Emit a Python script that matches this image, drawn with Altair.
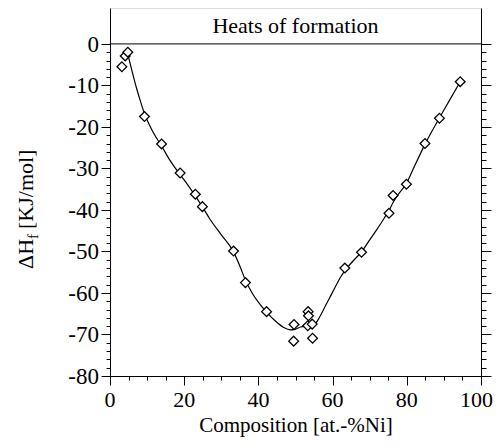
import altair as alt
import pandas as pd

# measured points (composition at.-% Ni, heat of formation kJ/mol)
comp = [3.2, 4.1, 4.8, 9.3, 13.9, 18.9, 23.0, 24.9, 33.3, 36.5, 42.2, 49.6, 49.5,
        53.4, 53.5, 53.3, 54.5, 54.6, 63.3, 67.8, 75.2, 76.3, 79.9, 84.9, 88.8, 94.4]
dh = [-5.5, -2.9, -2.0, -17.5, -24.1, -31.1, -36.2, -39.2, -49.9, -57.5, -64.5, -67.6, -71.6,
      -64.5, -65.5, -67.9, -67.5, -70.9, -54.0, -50.2, -40.8, -36.5, -33.8, -24.0, -17.9, -9.1]

# fitted curve
fit_x = [4.9, 5.5, 6.3, 7.2, 8.1, 9.3, 10.5, 11.7, 13.9, 16.0, 18.9, 21.0, 23.0, 25.0, 27.0,
         30.0, 33.3, 35.0, 36.5, 38.5, 40.5, 42.2, 44.5, 46.8, 48.6, 50.0, 51.4, 53.6, 55.4,
         56.5, 57.6, 59.0, 60.4, 62.0, 63.3, 65.5, 67.8, 70.0, 72.0, 73.9, 75.2, 76.3, 78.0,
         79.9, 82.0, 84.9, 86.8, 88.8, 91.5, 94.4]
fit_y = [-2.8, -5.0, -7.8, -10.8, -13.5, -16.8, -19.3, -21.4, -24.6, -27.8, -31.5, -34.0, -36.6,
         -39.4, -42.3, -46.0, -50.1, -53.5, -56.9, -60.3, -62.8, -64.6, -66.7, -68.3, -68.9,
         -68.7, -68.2, -67.9, -67.3, -65.8, -63.9, -61.5, -59.1, -56.4, -54.6, -52.3, -50.1,
         -47.2, -44.6, -42.0, -40.2, -38.2, -35.9, -33.6, -29.6, -24.2, -21.0, -17.8, -13.6, -9.1]

x_major = [0, 20, 40, 60, 80, 100]
x_minor = list(range(0, 101, 5))
y_major = list(range(-80, 1, 10))
y_minor = list(range(-80, 1, 2))
zero_line = [0]
panel_title = ["Heats of formation"]

FONT = "Liberation Serif"
W, H = 371, 368
xs = alt.Scale(domain=[0, 100], nice=False, zero=False)
ys = alt.Scale(domain=[-80, 8.65], nice=False, zero=False)
lab = "datum.v < 0 ? '-' + abs(datum.v) : '' + datum.v"

common = dict(domainColor="black", tickColor="black", grid=False, labels=False,
              titleFont=FONT, titleColor="black",
              domainWidth=1, tickWidth=1, titleFontWeight="normal")

x_major_axis = alt.Axis(orient="bottom", values=x_major, tickSize=9,
                        title="Composition [at.-%Ni]", titleFontSize=21,
                        titlePadding=29, **common)
x_minor_axis = alt.Axis(orient="bottom", values=x_minor, tickSize=4,
                        title="", domain=False, **common)
y_major_left = alt.Axis(orient="left", values=y_major, tickSize=9, title="", **common)
y_minor_left = alt.Axis(orient="left", values=y_minor, tickSize=4,
                        title="", domain=False, **common)
y_major_right = alt.Axis(orient="right", values=y_major, tickSize=10, title="", **common)
y_minor_right = alt.Axis(orient="right", values=y_minor, tickSize=5,
                         title="", domain=False, **common)

fit_df = pd.DataFrame({"x": fit_x, "y": fit_y})
pts_df = pd.DataFrame({"x": comp, "y": dh})

curve = alt.Chart(fit_df).mark_line(color="black", strokeWidth=1.2, interpolate="monotone").encode(
    x=alt.X("x:Q", scale=xs, axis=x_major_axis),
    y=alt.Y("y:Q", scale=ys, axis=y_major_left),
)

pts = alt.Chart(pts_df).mark_point(shape="diamond", size=95, filled=True, fill="white",
                                   fillOpacity=1, stroke="black", strokeWidth=1.3,
                                   opacity=1).encode(
    x=alt.X("x:Q", scale=xs, axis=x_minor_axis),
    y=alt.Y("y:Q", scale=ys, axis=y_minor_left),
)

zero = alt.Chart(pd.DataFrame({"y": zero_line})).mark_rule(color="black", strokeWidth=1).encode(
    y=alt.Y("y:Q", scale=ys, axis=y_major_right),
)

ttl = alt.Chart(pd.DataFrame({"t": panel_title})).mark_text(
    font=FONT, fontSize=22, baseline="middle", align="center", color="black").encode(
    x=alt.XDatum(50, type="quantitative", scale=xs, axis=None),
    y=alt.YDatum(4.4, type="quantitative", scale=ys, axis=y_minor_right),
    text="t:N",
)

# tick labels as serif text
xlab_df = pd.DataFrame({"v": x_major})
xlab = alt.Chart(xlab_df).transform_filter("datum.v < 100").transform_calculate(lab=lab).mark_text(
    font=FONT, fontSize=22, baseline="alphabetic", align="center", dy=31, color="black").encode(
    x=alt.X("v:Q", scale=xs, axis=None),
    y=alt.YDatum(-80, type="quantitative", scale=ys, axis=None),
    text="lab:N",
)
xlab_end = alt.Chart(xlab_df).transform_filter("datum.v == 100").transform_calculate(lab=lab).mark_text(
    font=FONT, fontSize=22, baseline="alphabetic", align="right", dx=12, dy=31, color="black").encode(
    x=alt.X("v:Q", scale=xs, axis=None),
    y=alt.YDatum(-80, type="quantitative", scale=ys, axis=None),
    text="lab:N",
)
ylab = alt.Chart(pd.DataFrame({"v": y_major})).transform_calculate(lab=lab).mark_text(
    font=FONT, fontSize=23, baseline="middle", align="right", dx=-11, dy=1, color="black").encode(
    x=alt.XDatum(0, type="quantitative", scale=xs, axis=None),
    y=alt.Y("v:Q", scale=ys, axis=None),
    text="lab:N",
)

ytitle_parts = ["ΔH", "f", "[KJ/mol]"]
yt_df = pd.DataFrame({"t": ytitle_parts})
yt1 = alt.Chart(yt_df).transform_filter("datum.t == 'ΔH'").mark_text(
    font=FONT, fontSize=22, angle=270, align="left", baseline="alphabetic", color="black").encode(
    x=alt.value(-77), y=alt.value(261), text="t:N")
yt2 = alt.Chart(yt_df).transform_filter("datum.t == 'f'").mark_text(
    font=FONT, fontSize=15, angle=270, align="left", baseline="alphabetic", color="black").encode(
    x=alt.value(-72), y=alt.value(231), text="t:N")
yt3 = alt.Chart(yt_df).transform_filter("datum.t == '[KJ/mol]'").mark_text(
    font=FONT, fontSize=22, angle=270, align="left", baseline="alphabetic", color="black").encode(
    x=alt.value(-77), y=alt.value(221), text="t:N")

chart = alt.layer(curve, pts, zero, ttl, xlab, xlab_end, ylab, yt1, yt2, yt3).resolve_axis(
    x="independent", y="independent"
).properties(
    width=W, height=H,
    autosize=alt.AutoSizeParams(type="none"),
    padding={"left": 102, "top": 0, "right": 13, "bottom": 62},
).configure_view(stroke="black", strokeWidth=1).configure(background="white")

chart.save("out.html", embed_options={"renderer": "svg", "actions": False})
